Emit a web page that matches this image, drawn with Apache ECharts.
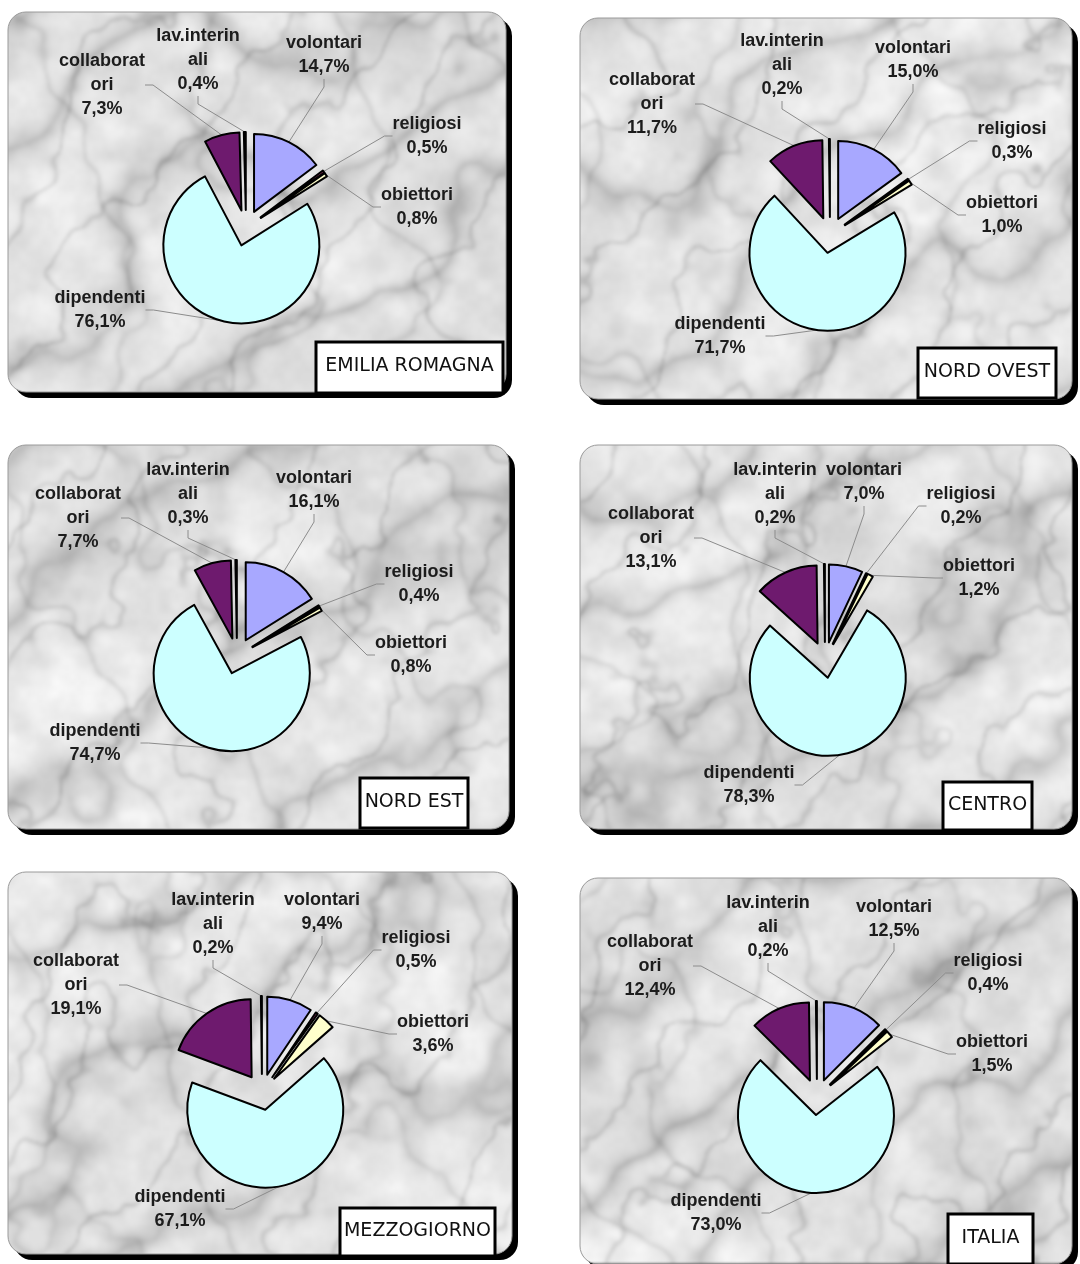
<!DOCTYPE html>
<html>
<head>
<meta charset="utf-8">
<script src="https://cdn.jsdelivr.net/npm/echarts@6/dist/echarts.min.js"></script>
<style>
  html, body { margin: 0; padding: 0; background: #ffffff; }
  #chart { width: 1080px; height: 1264px; }
</style>
</head>
<body>
<div id="chart"></div>
<script>
// Workforce composition by area (% of total staff)
const categories = ['volontari', 'religiosi', 'obiettori', 'dipendenti', 'collaboratori', 'lav.interinali'];
const labelNames = ['volontari', 'religiosi', 'obiettori', 'dipendenti', 'collaborat\nori', 'lav.interin\nali'];
const regions = ['EMILIA ROMAGNA', 'NORD OVEST', 'NORD EST', 'CENTRO', 'MEZZOGIORNO', 'ITALIA'];

const emiliaRomagna = [14.7, 0.5, 0.8, 76.1, 7.3, 0.4];
const nordOvest     = [15.0, 0.3, 1.0, 71.7, 11.7, 0.2];
const nordEst       = [16.1, 0.4, 0.8, 74.7, 7.7, 0.3];
const centro        = [7.0, 0.2, 1.2, 78.3, 13.1, 0.2];
const mezzogiorno   = [9.4, 0.5, 3.6, 67.1, 19.1, 0.2];
const italia        = [12.5, 0.4, 1.5, 73.0, 12.4, 0.2];

const seriesValues = [emiliaRomagna, nordOvest, nordEst, centro, mezzogiorno, italia];

const sliceColors = ['#A8A8FF', '#993366', '#FFFFCC', '#CCFFFF', '#6E1A6E', '#FFFFFF'];

// Panel geometry: card rectangle, pie centre, name tag, label offsets (from pie centre)
const panels = [
  { card: [8, 12, 498, 380],  center: [246, 228],  tag: [316, 342, 187, 51],
    labels: [[78, -173], [181, -92], [171, -21], [-146, 82], [-144, -143], [-48, -168]] },
  { card: [580, 18, 492, 381], center: [830, 235], tag: [918, 348, 138, 50],
    labels: [[83, -175], [182, -94], [172, -20], [-110, 101], [-178, -131], [-48, -170]] },
  { card: [8, 445, 501, 384], center: [237, 656], tag: [360, 778, 108, 50],
    labels: [[77, -166], [182, -72], [174, -1], [-142, 87], [-159, -138], [-49, -162]] },
  { card: [580, 445, 492, 384], center: [825, 660], tag: [943, 782, 89, 48],
    labels: [[39, -178], [136, -154], [154, -82], [-76, 125], [-174, -122], [-50, -166]] },
  { card: [8, 872, 504, 382], center: [262, 1092], tag: [340, 1208, 155, 48],
    labels: [[60, -180], [154, -142], [171, -58], [-82, 117], [-186, -107], [-49, -168]] },
  { card: [580, 878, 492, 386], center: [817, 1097], tag: [948, 1214, 85, 50],
    labels: [[77, -178], [171, -124], [175, -43], [-101, 116], [-167, -131], [-49, -170]] }
];

const PIE_RADIUS = 78;
const EXPLODE = 18;   // distance each slice is pulled out from the centre

// Procedural grey marble used as the card background
function makeMarble(W, H) {
  const s = 2;
  const w = Math.ceil(W / s), h = Math.ceil(H / s);
  const small = document.createElement('canvas');
  small.width = w; small.height = h;
  const sctx = small.getContext('2d');
  const img = sctx.createImageData(w, h);
  function hash(ix, iy, seed) {
    let n = Math.imul(ix, 374761393) ^ Math.imul(iy, 668265263) ^ Math.imul(seed, 2246822519);
    n = Math.imul(n ^ (n >>> 13), 1274126177);
    n ^= n >>> 16;
    return (n >>> 0) / 4294967296;
  }
  function noise(x, y, seed) {
    const ix = Math.floor(x), iy = Math.floor(y);
    const fx = x - ix, fy = y - iy;
    const ux = fx * fx * (3 - 2 * fx), uy = fy * fy * (3 - 2 * fy);
    const a = hash(ix, iy, seed), b = hash(ix + 1, iy, seed);
    const c = hash(ix, iy + 1, seed), d = hash(ix + 1, iy + 1, seed);
    return a + (b - a) * ux + (c - a) * uy + (a - b - c + d) * ux * uy;
  }
  function fbm(x, y, seed, oct) {
    let v = 0, amp = 0.5, f = 1;
    for (let o = 0; o < oct; o++) { v += amp * noise(x * f, y * f, seed + o * 7); f *= 2; amp *= 0.5; }
    return v;
  }
  let p = 0;
  for (let y = 0; y < h; y++) {
    for (let x = 0; x < w; x++) {
      const X = x * s, Y = y * s;
      const n1 = fbm(X / 170, Y / 170, 1, 4);
      const n2 = fbm(X / 90, Y / 90, 101, 4);
      const n3 = fbm(X / 22, Y / 22, 201, 3);
      const n4 = fbm(X / 140, Y / 140, 301, 4);
      // broad diagonal streaks and finer crack-like veins
      const a = Math.sin((X * 0.5 + Y * 0.87) * 0.022 + n1 * 6);
      const b = Math.sin((X * 0.8 + Y * 0.6) * 0.03 + n2 * 6);
      const c = Math.sin((X * 0.95 - Y * 0.3) * 0.02 + n4 * 6);
      const streak = Math.pow(1 - Math.abs(a), 3);
      const vein = Math.pow(1 - Math.abs(b), 10);
      const vein2 = Math.pow(1 - Math.abs(c), 10);
      let g = 232 + (n3 - 0.5) * 36 - (n4 - 0.45) * 40 - streak * 38 - vein * 36 - vein2 * 26;
      g = Math.max(130, Math.min(250, g));
      img.data[p++] = g; img.data[p++] = g; img.data[p++] = g; img.data[p++] = 255;
    }
  }
  sctx.putImageData(img, 0, 0);
  const big = document.createElement('canvas');
  big.width = W; big.height = H;
  const bctx = big.getContext('2d');
  bctx.imageSmoothingEnabled = true;
  bctx.filter = 'blur(1.4px)';
  bctx.drawImage(small, 0, 0, W, H);
  return big;
}

const marble = makeMarble(1080, 1264);

const pct = v => v.toFixed(1).replace('.', ',') + '%';

const graphics = [];
panels.forEach((p, i) => {
  const [x, y, w, h] = p.card;
  graphics.push({
    type: 'rect', silent: true, z: 0,
    shape: { x: x + 6, y: y + 6, width: w, height: h, r: 18 },
    style: { fill: '#000000' }
  });
  graphics.push({
    type: 'rect', silent: true, z: 1,
    shape: { x: x, y: y, width: w, height: h, r: 18 },
    style: { fill: { image: marble, repeat: 'no-repeat' }, stroke: '#9a9a9a', lineWidth: 1 }
  });
  const [tx, ty, tw, th] = p.tag;
  graphics.push({
    type: 'rect', silent: true, z: 2,
    shape: { x: tx, y: ty, width: tw, height: th },
    style: { fill: '#ffffff', stroke: '#000000', lineWidth: 3 }
  });
  graphics.push({
    type: 'text', silent: true, z: 3,
    x: tx + tw / 2, y: ty + th / 2 - 1,
    style: {
      text: regions[i], fill: '#111111',
      font: '19px "DejaVu Sans"',
      textAlign: 'center', textVerticalAlign: 'middle',
      align: 'center', verticalAlign: 'middle'
    }
  });
});

// Exploded pie: every slice is its own pie series, shifted out along its mid-angle.
const series = [];
panels.forEach((p, i) => {
  const values = seriesValues[i];
  const total = values.reduce((s, v) => s + v, 0);
  let before = 0;
  values.forEach((v, k) => {
    const mid = (before + v / 2) / total * 2 * Math.PI;
    const cx = p.center[0] + EXPLODE * Math.sin(mid);
    const cy = p.center[1] - EXPLODE * Math.cos(mid);
    const off = p.labels[k];
    series.push({
      type: 'pie',
      name: regions[i] + ' - ' + categories[k],
      z: 10,
      center: [cx, cy],
      radius: PIE_RADIUS,
      startAngle: 90 - before / total * 360,
      clockwise: true,
      avoidLabelOverlap: false,
      animation: false,
      silent: true,
      emphasis: { disabled: true },
      label: {
        show: true,
        position: 'outside',
        formatter: prm => labelNames[k] + '\n' + pct(prm.value),
        fontFamily: '"Liberation Sans", Arial, sans-serif',
        fontWeight: 'bold',
        fontSize: 18,
        lineHeight: 24,
        color: '#1c1c1c',
        align: 'center'
      },
      labelLine: {
        show: true, length: 12, length2: 8,
        lineStyle: { color: '#8c8c8c', width: 1 }
      },
      labelLayout: prm => (prm.dataIndex === 0 ? {
        x: p.center[0] + off[0], y: p.center[1] + off[1],
        align: 'center', verticalAlign: 'middle'
      } : {}),
      data: [
        { name: categories[k], value: v,
          itemStyle: { color: sliceColors[k], borderColor: '#000000', borderWidth: 2 } },
        { name: '', value: total - v,
          itemStyle: { color: 'rgba(0,0,0,0)', borderWidth: 0 },
          label: { show: false }, labelLine: { show: false } }
      ]
    });
    before += v;
  });
});

const chart = echarts.init(document.getElementById('chart'), null, { renderer: 'canvas' });
chart.setOption({
  animation: false,
  backgroundColor: '#ffffff',
  graphic: { elements: graphics },
  series: series
});
</script>
</body>
</html>
